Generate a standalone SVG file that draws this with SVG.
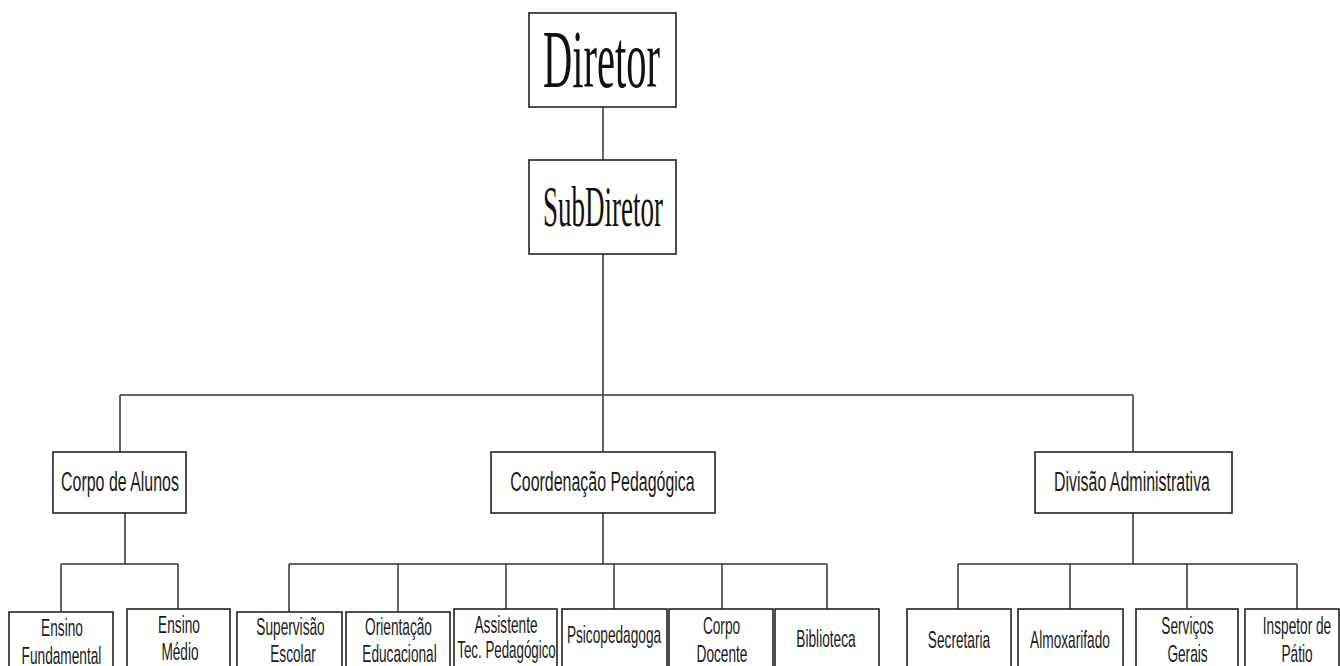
<svg xmlns="http://www.w3.org/2000/svg" width="1340" height="666" viewBox="0 0 1340 666">
<style>
.box{fill:#fff;stroke:#222;stroke-width:1.6}
.ln{stroke:#333;stroke-width:1.5;fill:none}
.serif{font-family:"Liberation Serif","Times New Roman",serif;fill:#111;text-anchor:middle}
.sans{font-family:"Liberation Sans",Arial,sans-serif;fill:#1a1a1a;text-anchor:middle}
.m{font-size:28px}
.s{font-size:24px}
</style>
<rect width="1340" height="666" fill="#fff"/>
<g id="connectors" class="ln">
<path d="M603,107V160M603,254V395M120,395H1133M120,395V452M603,395V452M1133,395V452"/>
<path d="M125,513V564M61,564H178M61,564V612M178,564V609"/>
<path d="M603,513V564M289,564H827M289,564V612M398,564V612M506,564V609M614,564V609M722,564V609M827,564V609"/>
<path d="M1133,513V564M958,564H1297M958,564V609M1070,564V609M1187,564V609M1297,564V609"/>
</g>
<g id="diretor"><rect class="box" x="529" y="13" width="147" height="94"/><text class="serif" font-size="82" transform="translate(601.5,87) scale(0.494,1)">Diretor</text></g>
<g id="subdiretor"><rect class="box" x="529" y="160" width="147" height="94"/><text class="serif" font-size="56" transform="translate(603,226) scale(0.482,1)">SubDiretor</text></g>
<g id="corpo-alunos"><rect class="box" x="53" y="452" width="133" height="61"/><text class="sans m" transform="translate(120,491) scale(0.57,1)">Corpo de Alunos</text></g>
<g id="coordenacao"><rect class="box" x="491" y="452" width="224" height="61"/><text class="sans m" transform="translate(602.5,491) scale(0.57,1)">Coordenação Pedagógica</text></g>
<g id="divisao"><rect class="box" x="1035" y="452" width="197" height="61"/><text class="sans m" transform="translate(1132,491) scale(0.57,1)">Divisão Administrativa</text></g>
<g id="ensino-fundamental"><rect class="box" x="9" y="612" width="104" height="80"/><text class="sans s" transform="translate(62,636) scale(0.57,1)">Ensino</text><text class="sans s" transform="translate(61.5,664) scale(0.57,1)">Fundamental</text></g>
<g id="ensino-medio"><rect class="box" x="127" y="609" width="103" height="80"/><text class="sans s" transform="translate(179,633) scale(0.57,1)">Ensino</text><text class="sans s" transform="translate(180,660) scale(0.57,1)">Médio</text></g>
<g id="supervisao"><rect class="box" x="237" y="612" width="105" height="80"/><text class="sans s" transform="translate(290.5,635) scale(0.57,1)">Supervisão</text><text class="sans s" transform="translate(293,662) scale(0.57,1)">Escolar</text></g>
<g id="orientacao"><rect class="box" x="346" y="612" width="104" height="80"/><text class="sans s" transform="translate(398.5,635) scale(0.57,1)">Orientação</text><text class="sans s" transform="translate(399.5,662) scale(0.57,1)">Educacional</text></g>
<g id="assistente"><rect class="box" x="454" y="609" width="103" height="80"/><text class="sans s" transform="translate(506,633) scale(0.57,1)">Assistente</text><text class="sans s" transform="translate(506.5,658) scale(0.555,1)">Tec. Pedagógico</text></g>
<g id="psicopedagoga"><rect class="box" x="562" y="609" width="105" height="80"/><text class="sans s" transform="translate(614,643) scale(0.57,1)">Psicopedagoga</text></g>
<g id="corpo-docente"><rect class="box" x="669" y="609" width="104" height="80"/><text class="sans s" transform="translate(721.5,634) scale(0.57,1)">Corpo</text><text class="sans s" transform="translate(722,662) scale(0.57,1)">Docente</text></g>
<g id="biblioteca"><rect class="box" x="775" y="609" width="104" height="80"/><text class="sans s" transform="translate(826,647) scale(0.57,1)">Biblioteca</text></g>
<g id="secretaria"><rect class="box" x="907" y="609" width="104" height="80"/><text class="sans s" transform="translate(959,648) scale(0.57,1)">Secretaria</text></g>
<g id="almoxarifado"><rect class="box" x="1018" y="609" width="105" height="80"/><text class="sans s" transform="translate(1070,648) scale(0.57,1)">Almoxarifado</text></g>
<g id="servicos-gerais"><rect class="box" x="1136" y="609" width="102" height="80"/><text class="sans s" transform="translate(1187.5,634) scale(0.57,1)">Serviços</text><text class="sans s" transform="translate(1187.5,662) scale(0.57,1)">Gerais</text></g>
<g id="inspetor"><rect class="box" x="1245" y="609" width="94" height="80"/><text class="sans s" transform="translate(1297,634) scale(0.57,1)">Inspetor de</text><text class="sans s" transform="translate(1297,662) scale(0.57,1)">Pátio</text></g>
</svg>
